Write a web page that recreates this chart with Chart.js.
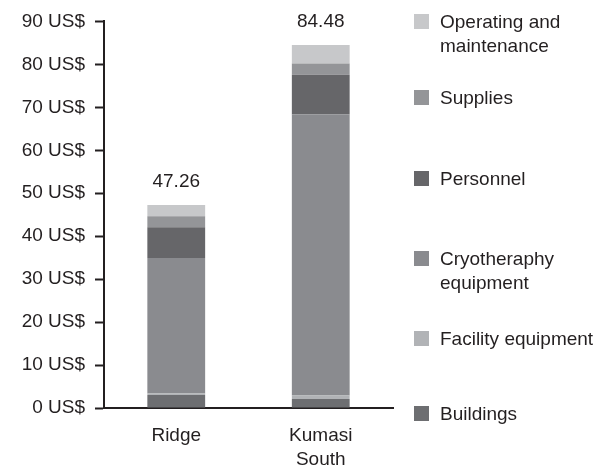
<!DOCTYPE html>
<html>
<head>
<meta charset="utf-8">
<script src="https://cdn.jsdelivr.net/npm/chart.js@4/dist/chart.umd.min.js"></script>
<style>
  html, body { margin: 0; padding: 0; background: #fff; }
  #wrap { width: 616px; height: 471px; position: relative; }
</style>
</head>
<body>
<div id="wrap"><canvas id="cost-chart"></canvas></div>
<script>
// sites on the x axis
const sites = ['Ridge', ['Kumasi', 'South']];

// cost per site, stacked from the bottom up
const seriesNames = ['Buildings', 'Facility equipment', 'Cryotheraphy equipment', 'Personnel', 'Supplies', 'Operating and maintenance'];
const buildings  = [3.0, 2.1];
const facility   = [0.4, 0.8];
const cryo       = [31.5, 65.4];
const personnel  = [7.2, 9.3];
const supplies   = [2.56, 2.58];
const operating  = [2.6, 4.3];
const totals     = [47.26, 84.48];

const yTicks = [0, 10, 20, 30, 40, 50, 60, 70, 80, 90];

const COLORS = ['#6d6e71', '#b1b3b6', '#8a8b8f', '#666669', '#949598', '#c7c8ca'];
const TEXT = '#231f20';
const FONT = "'Liberation Sans', Arial, sans-serif";
const SIZE = 19;

const series = [buildings, facility, cryo, personnel, supplies, operating];

// total above each bar
const totalLabels = {
  id: 'totalLabels',
  afterDatasetsDraw(chart) {
    const ctx = chart.ctx;
    const top = chart.getDatasetMeta(series.length - 1);
    ctx.save();
    ctx.font = SIZE + 'px ' + FONT;
    ctx.fillStyle = TEXT;
    ctx.textAlign = 'center';
    ctx.textBaseline = 'middle';
    top.data.forEach((bar, i) => {
      ctx.fillText(totals[i].toFixed(2), bar.x, bar.y - 23);
    });
    ctx.restore();
  }
};

// legend on the right, top item first, spaced like the original
const sideLegend = {
  id: 'sideLegend',
  afterDraw(chart) {
    const ctx = chart.ctx;
    const rows = [23, 99, 180, 260, 340, 415];
    ctx.save();
    ctx.font = SIZE + 'px ' + FONT;
    ctx.textBaseline = 'middle';
    for (let k = 0; k < seriesNames.length; k++) {
      const idx = seriesNames.length - 1 - k;
      const y = rows[k];
      ctx.fillStyle = COLORS[idx];
      ctx.fillRect(414, y - 9, 15, 15);
      ctx.fillStyle = TEXT;
      // wrap long names
      const words = seriesNames[idx].split(' ');
      let lines = [], line = '';
      for (let w of words) {
        const test = line ? line + ' ' + w : w;
        if (ctx.measureText(test).width > 170 && line) {
          lines.push(line);
          line = w;
        } else {
          line = test;
        }
      }
      lines.push(line);
      lines.forEach((l, j) => ctx.fillText(l, 440, y + j * 24));
    }
    ctx.restore();
  }
};

new Chart(document.getElementById('cost-chart'), {
  type: 'bar',
  data: {
    labels: sites,
    datasets: series.map((vals, i) => ({
      label: seriesNames[i],
      data: vals,
      backgroundColor: COLORS[i],
      borderWidth: 0,
      barPercentage: 0.4,
      categoryPercentage: 1.0
    }))
  },
  options: {
    responsive: true,
    maintainAspectRatio: false,
    animation: false,
    layout: { padding: { top: 21, right: 223, left: 0, bottom: 0 } },
    plugins: {
      legend: { display: false },
      tooltip: { enabled: false }
    },
    scales: {
      x: {
        stacked: true,
        grid: { display: false, drawTicks: false },
        border: { color: TEXT, width: 2 },
        ticks: { color: TEXT, font: { family: FONT, size: SIZE, lineHeight: 24 / SIZE }, padding: 16, maxRotation: 0 },
        afterFit: axis => { axis.height = 63; }
      },
      y: {
        stacked: true,
        min: 0,
        max: 90,
        afterBuildTicks: axis => { axis.ticks = yTicks.map(v => ({ value: v })); },
        grid: { drawOnChartArea: false, drawTicks: true, tickLength: 9, color: TEXT, tickWidth: 2 },
        border: { color: TEXT, width: 2 },
        ticks: {
          color: TEXT,
          font: { family: FONT, size: SIZE },
          padding: 10,
          callback: v => v + ' US$'
        },
        afterFit: axis => { axis.width = 104; }
      }
    }
  },
  plugins: [totalLabels, sideLegend]
});
</script>
</body>
</html>
